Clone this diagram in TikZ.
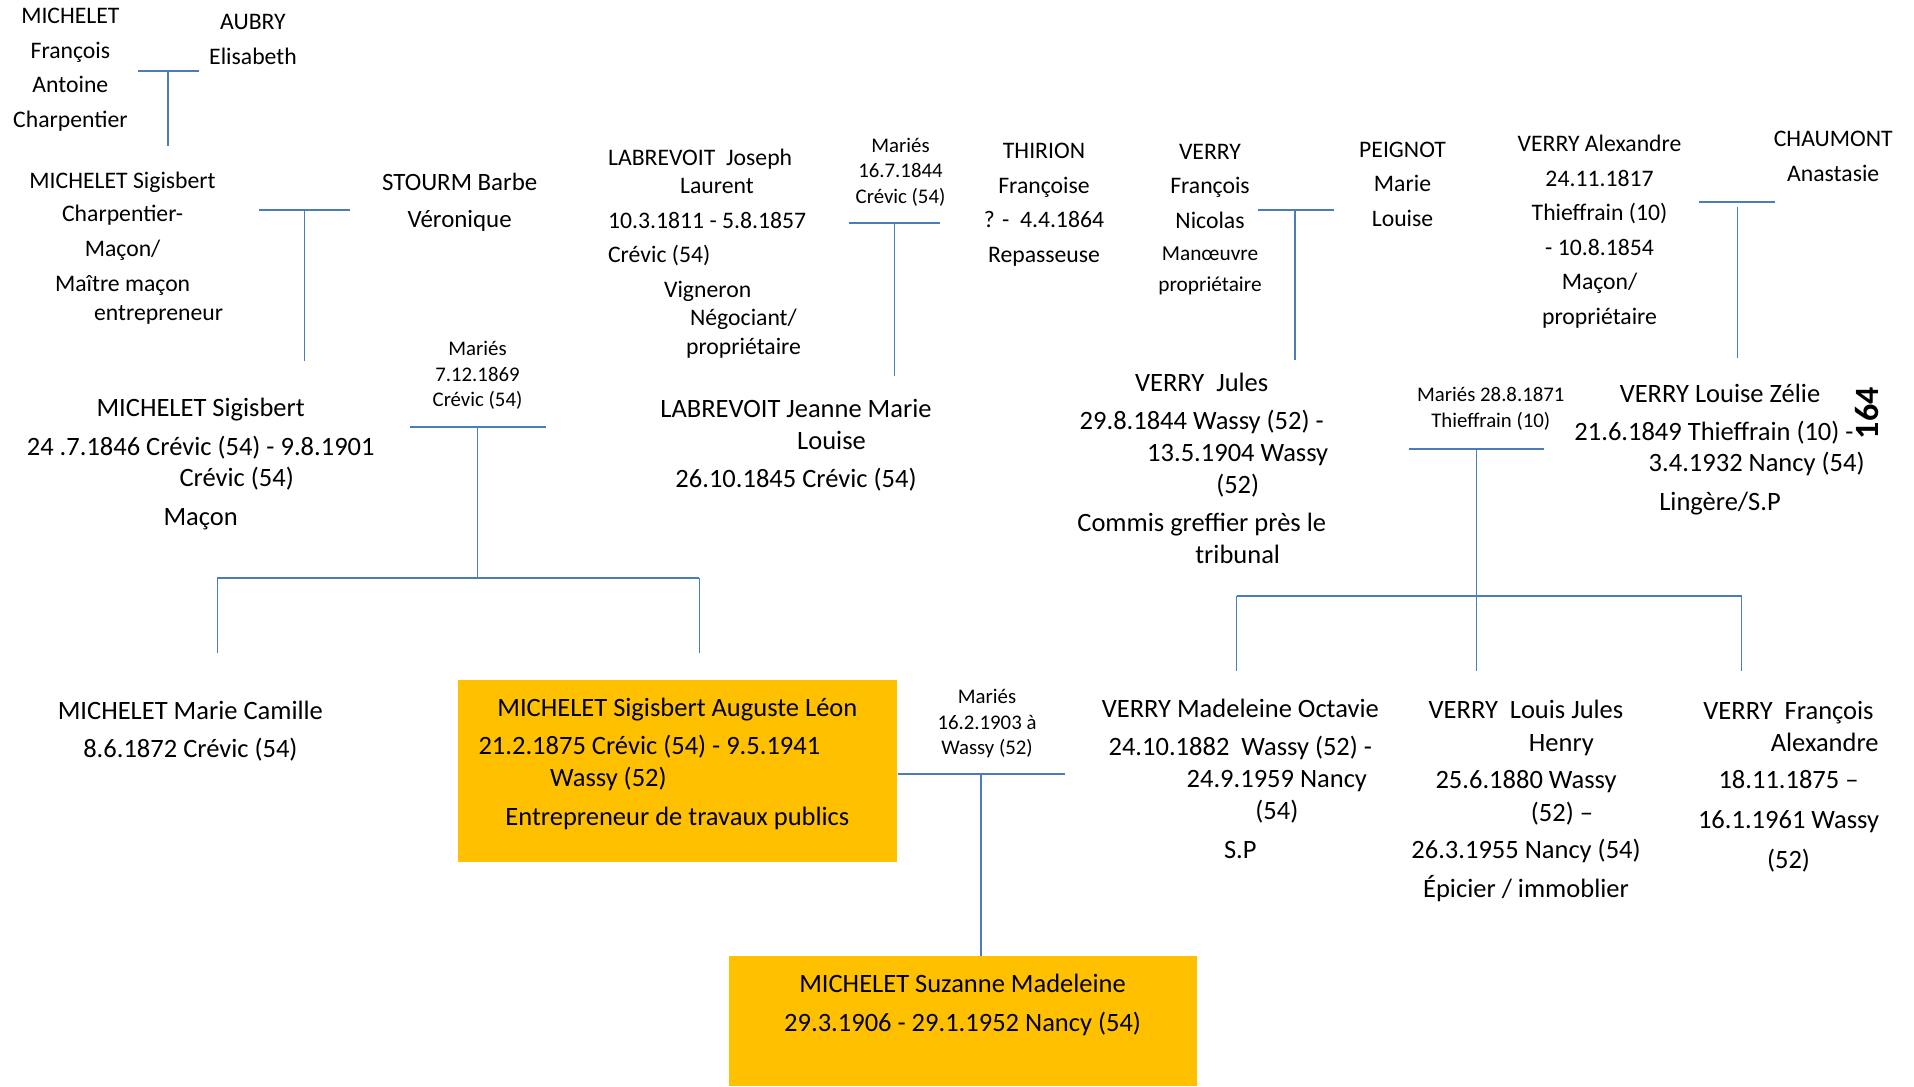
\documentclass[tikz,border=0pt]{standalone}
\usepackage{fontspec}
\setmainfont{Carlito}
\definecolor{linkblue}{RGB}{74,126,187}
\definecolor{keyorange}{RGB}{255,192,0}

\begin{document}
\begin{tikzpicture}[x=0.5pt, y=-0.5pt,
  elder/.style={align=center, anchor=north, inner sep=0pt, font=\fontsize{11.85}{14.25}\selectfont},
  person/.style={align=center, anchor=north, inner sep=0pt, font=\fontsize{13.25}{15.9}\selectfont},
  wed/.style={align=center, anchor=north, inner sep=0pt, font=\fontsize{10.4}{12.75}\selectfont},
  keybox/.style={fill=keyorange, anchor=north west, inner sep=0pt},
  bar/.style={draw=linkblue, line width=1pt},
  drop/.style={draw=linkblue, line width=0.75pt}
]
\useasboundingbox (0,0) rectangle (1914,1086);

% first generations
\node[elder] (francois) at (70.4,8.2) {MICHELET\\[3pt] François\\[3pt] Antoine\\[3pt] Charpentier};
\node[elder] (aubry) at (253,14.2) {AUBRY\\[3pt] Elisabeth};
\node[elder] (sigisbert1) at (122.6,171.5) {MICHELET Sigisbert\\[2.5pt] Charpentier-\\[3.2pt] Maçon/\\[3.2pt] Maître maçon\\ \hspace*{36pt}entrepreneur};
\node[elder, font=\fontsize{12.45}{15}\selectfont] (stourm) at (459.7,173) {STOURM Barbe\\[3.5pt] Véronique};
\node[elder, align=left, anchor=north west] (joseph) at (607.7,148.2) {LABREVOIT\ \ Joseph\\ \hspace*{36pt}Laurent\\[3pt] 10.3.1811 - 5.8.1857\\[3pt] Crévic (54)\\[3pt] \hspace*{28pt}Vigneron\\ \hspace*{41pt}Négociant/\\ \hspace*{39pt}propriétaire};
\node[wed] (wed1) at (900.5,137.5) {Mariés\\ 16.7.1844\\ Crévic (54)};
\node[elder] (thirion) at (1044,143.2) {THIRION\\[3pt] Françoise\\[3pt] ? -\ \ 4.4.1864\\[3pt] Repasseuse};
\node[elder] (verryfn) at (1210,144.2) {VERRY\\[2.75pt] François\\[3.25pt] Nicolas\\[1.5pt] {\fontsize{10.65}{12.8}\selectfont Manœuvre}\\[1.1pt] {\fontsize{10.65}{12.8}\selectfont propriétaire}};
\node[elder] (peignot) at (1402.5,141.5) {PEIGNOT\\[3pt] Marie\\[3.25pt] Louise};
\node[elder] (alexandre) at (1599.5,134.8) {VERRY Alexandre\\[3pt] 24.11.1817\\[3pt] Thieffrain (10)\\[3pt] - 10.8.1854\\[3pt] Maçon/\\[3pt] propriétaire};
\node[elder] (chaumont) at (1833.2,130.8) {CHAUMONT\\[3pt] Anastasie};

% parents
\node[person] (sigisbert2) at (200.7,397.8) {MICHELET Sigisbert\\[3.3pt] 24 .7.1846 Crévic (54) - 9.8.1901\\ \hspace*{36pt}Crévic (54)\\[3.3pt] Maçon};
\node[wed] (wed2) at (477.5,340.8) {Mariés\\ 7.12.1869\\ Crévic (54)};
\node[person] (jeanne) at (796,398.8) {LABREVOIT Jeanne Marie\\ \hspace*{35.5pt}Louise\\[3.3pt] 26.10.1845 Crévic (54)};
\node[person] (jules) at (1201.7,372.2) {VERRY\ \ Jules\\[3.3pt] 29.8.1844 Wassy (52) -\\ \hspace*{36pt}13.5.1904 Wassy\\ \hspace*{36pt}(52)\\[3.4pt] Commis greffier près le\\ \hspace*{36pt}tribunal};
\node[wed] (wed4) at (1490.8,386.8) {Mariés 28.8.1871\\ Thieffrain (10)};
\node[person] (zelie) at (1720,383.8) {VERRY Louise Zélie\\[2.8pt] 21.6.1849 Thieffrain (10) -\hspace*{6pt}\null\\ \hspace*{36.6pt}3.4.1932 Nancy (54)\\[3.3pt] Lingère/S.P};
\node[rotate=90, inner sep=0pt, font=\bfseries\fontsize{17}{17}\selectfont] (pagenum) at (1866.7,413.3) {164};

% children
\node[person] (camille) at (190.4,700.5) {MICHELET Marie Camille\\[3.3pt] 8.6.1872 Crévic (54)};
\node[keybox, minimum width=219.4pt, minimum height=90.85pt] (leonbox) at (458,680) {};
\node[person] (leon) at (677.4,697.2) {MICHELET Sigisbert Auguste Léon\\[3.3pt] 21.2.1875 Crévic (54) - 9.5.1941\hspace*{28pt}\null\\ Wassy (52)\hspace*{69pt}\null\\[3.8pt] Entrepreneur de travaux publics};
\node[wed] (wed3) at (987,689.2) {Mariés\\ 16.2.1903 à\\ Wassy (52)};
\node[person] (octavie) at (1240.3,698.8) {VERRY Madeleine Octavie\\[2.95pt] 24.10.1882\ \ Wassy (52) -\\ \hspace*{36.5pt}24.9.1959 Nancy\\[0.45pt] \hspace*{36.5pt}(54)\\[3.25pt] S.P};
\node[person] (louis) at (1526,699.8) {VERRY\ \ Louis Jules\\[0.3pt] \hspace*{35.4pt}Henry\\[2.9pt] 25.6.1880 Wassy\\[0.3pt] \hspace*{36pt}(52) --\\[2.9pt] 26.3.1955 Nancy (54)\\[3.6pt] Épicier / immoblier};
\node[person] (francoisalex) at (1788.5,701.2) {VERRY\ \ François\\ \hspace*{36.2pt}Alexandre\\[2.4pt] 18.11.1875 --\\[4.1pt] 16.1.1961 Wassy\\[4.1pt] (52)};
\node[keybox, minimum width=234.15pt, minimum height=65pt] (suzannebox) at (728.5,956) {};
\node[person] (suzanne) at (962.6,973.8) {MICHELET Suzanne Madeleine\\[3.3pt] 29.3.1906 - 29.1.1952 Nancy (54)};

% couples and descents
\coordinate (fa-l) at (138,71);       \coordinate (fa-r) at (199,71);       \coordinate (fa-end) at (168,146);
\coordinate (ss-l) at (259,210);      \coordinate (ss-r) at (350,210);      \coordinate (ss-end) at (304.6,361);
\coordinate (lt-l) at (849,222.7);    \coordinate (lt-r) at (940,222.7);    \coordinate (lt-end) at (894.4,375.7);
\coordinate (vp-l) at (1258.3,209.7); \coordinate (vp-r) at (1333.7,209.7); \coordinate (vp-end) at (1295.2,360);
\coordinate (vc-l) at (1699.3,202.3); \coordinate (vc-r) at (1775,202.3);
\coordinate (vc-top) at (1737.3,207.3); \coordinate (vc-end) at (1737.3,357.7);
\coordinate (ml-l) at (410.3,426.7);  \coordinate (ml-r) at (546.2,426.7);  \coordinate (ml-end) at (477.6,578.3);
\coordinate (vv-l) at (1409.2,449.3); \coordinate (vv-r) at (1544.2,449.3); \coordinate (vv-end) at (1476.7,671);
\coordinate (mv-l) at (898.4,774);    \coordinate (mv-r) at (1065.2,774);   \coordinate (mv-end) at (981,956);

\draw[bar] (fa-l) -- (fa-r);  \draw[drop] (fa-l -| fa-end) -- (fa-end);
\draw[bar] (ss-l) -- (ss-r);  \draw[drop] (ss-l -| ss-end) -- (ss-end);
\draw[bar] (lt-l) -- (lt-r);  \draw[drop] (lt-l -| lt-end) -- (lt-end);
\draw[bar] (vp-l) -- (vp-r);  \draw[drop] (vp-l -| vp-end) -- (vp-end);
\draw[bar] (vc-l) -- (vc-r);  \draw[drop] (vc-top) -- (vc-end);
\draw[bar] (ml-l) -- (ml-r);  \draw[drop] (ml-l -| ml-end) -- (ml-end);
\draw[bar] (vv-l) -- (vv-r);  \draw[drop] (vv-l -| vv-end) -- (vv-end);
\draw[bar] (mv-l) -- (mv-r);  \draw[drop] (mv-l -| mv-end) -- (mv-end);

% siblings
\coordinate (mk-l) at (217.4,578.3);  \coordinate (mk-r) at (699.3,578.3);
\coordinate (mk-a) at (217.4,653.3);  \coordinate (mk-b) at (699.3,653.3);
\draw[bar] (mk-l) -- (mk-r);
\draw[drop] (mk-l) -- (mk-a);
\draw[drop] (mk-r) -- (mk-b);

\coordinate (vk-l) at (1236.7,595.7); \coordinate (vk-r) at (1741.7,595.7);
\coordinate (vk-a) at (1236.7,671);   \coordinate (vk-b) at (1741.7,671);
\draw[bar] (vk-l) -- (vk-r);
\draw[drop] (vk-l) -- (vk-a);
\draw[drop] (vk-r) -- (vk-b);
\end{tikzpicture}
\end{document}
